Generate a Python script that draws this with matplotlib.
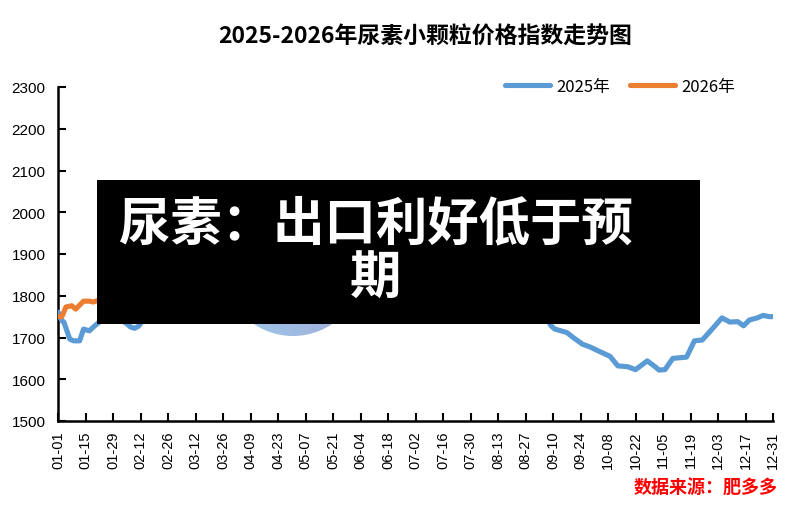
import matplotlib
matplotlib.use("Agg")
import matplotlib.pyplot as plt
import numpy as np
import pandas as pd
from matplotlib.patches import Rectangle, Circle

plt.rcParams['font.family'] = ['Noto Sans CJK SC', 'DejaVu Sans']

# ---------------- data ----------------
dates_2025 = ["01-01", "01-03", "01-04", "01-07", "01-09", "01-12", "01-14", "01-17",
              "01-19", "01-22", "01-26", "02-01", "02-05", "02-07", "02-09", "02-11",
              "02-13", "02-20", "03-01", "03-15", "04-01", "04-15", "05-01", "05-15",
              "06-01", "06-15", "07-01", "07-15", "08-01", "08-15", "09-01", "09-07",
              "09-09", "09-11", "09-17", "09-20", "09-25", "09-29", "10-03", "10-09",
              "10-13", "10-18", "10-22", "10-28", "11-01", "11-03", "11-06", "11-10",
              "11-17", "11-21", "11-25", "11-30", "12-05", "12-09", "12-13", "12-16",
              "12-19", "12-23", "12-26", "12-29", "12-31"]
values_2025 = [1761, 1740, 1737, 1696, 1692, 1692, 1720, 1716,
               1725, 1737, 1745, 1745, 1733, 1725, 1722, 1727,
               1740, 1770, 1800, 1850, 1900, 1920, 1900, 1880,
               1850, 1830, 1840, 1820, 1800, 1780, 1760, 1745,
               1728, 1720, 1712, 1701, 1684, 1677, 1668, 1655,
               1632, 1630, 1623, 1644, 1630, 1622, 1623, 1650,
               1653, 1692, 1694, 1720, 1747, 1737, 1738, 1728,
               1742, 1747, 1753, 1750, 1750]

dates_2026 = ["01-01", "01-03", "01-05", "01-08", "01-10", "01-14", "01-17", "01-19", "01-22"]
values_2026 = [1750, 1750, 1773, 1776, 1768, 1787, 1787, 1785, 1790]

tick_labels = ["01-01", "01-15", "01-29", "02-12", "02-26", "03-12", "03-26", "04-09",
               "04-23", "05-07", "05-21", "06-04", "06-18", "07-02", "07-16", "07-30",
               "08-13", "08-27", "09-10", "09-24", "10-08", "10-22", "11-05", "11-19",
               "12-03", "12-17", "12-31"]
y_ticks = [1500, 1600, 1700, 1800, 1900, 2000, 2100, 2200, 2300]

title = "2025-2026年尿素小颗粒价格指数走势图"
series_names = ["2025年", "2026年"]
overlay_text = "尿素：出口利好低于预\n期"
source_text = "数据来源：肥多多"

# ---------------- helpers ----------------
base = pd.Timestamp("2025-01-01")
def to_day(md_list):
    return [(pd.Timestamp("2025-" + md) - base).days for md in md_list]

x25 = to_day(dates_2025)
x26 = to_day(dates_2026)
xt = to_day(tick_labels)

W, H = 799, 506
fig = plt.figure(figsize=(W / 100, H / 100), dpi=100)
fig.patch.set_facecolor("white")

L, R, B, T = 58, 773, 422, 88
ax = fig.add_axes([L / W, 1 - B / H, (R - L) / W, (B - T) / H])

blue = "#5B9BD5"
orange = "#ED7D31"
ax.plot(x25, values_2025, color=blue, lw=3.7, solid_joinstyle="round",
        solid_capstyle="round", label=series_names[0], zorder=3)
ax.plot(x26, values_2026, color=orange, lw=3.7, solid_joinstyle="round",
        solid_capstyle="round", label=series_names[1], zorder=4)

ax.set_xlim(xt[0], xt[-1])
ax.set_ylim(1500, 2300)
ax.set_xticks(xt)
ax.set_xticklabels(tick_labels, rotation=90, family="Liberation Sans", fontsize=10.5)
ax.set_yticks(y_ticks)
ax.set_yticklabels([str(v) for v in y_ticks], family="Liberation Sans", fontsize=11)
ax.tick_params(axis="both", direction="in", length=6, width=1.5, colors="black")
ax.tick_params(axis="x", pad=7)
ax.tick_params(axis="y", pad=9)
for s in ["top", "right"]:
    ax.spines[s].set_visible(False)
for s in ["left", "bottom"]:
    ax.spines[s].set_linewidth(1.8)
    ax.spines[s].set_color("black")

leg = ax.legend(ncol=2, frameon=False, loc="upper right",
                bbox_to_anchor=(742 / W, 1 - 72 / H), bbox_transform=fig.transFigure,
                fontsize=12, handlelength=2.7, columnspacing=1.2, handletextpad=0.4,
                borderaxespad=0)
for line in leg.get_lines():
    line.set_linewidth(3.7)

fig.text(425 / W, 1 - 37 / H, title, ha="center", va="center",
         fontsize=16.5, fontweight="bold", color="black")

# decorative gradient circle (partially hidden by the box)
cx, cy, r = 293, 267, 70
cax = fig.add_axes([(cx - r) / W, 1 - (cy + r) / H, 2 * r / W, 2 * r / H], zorder=2)
cax.set_xlim(0, 1)
cax.set_ylim(0, 1)
cax.axis("off")
c1 = np.array(matplotlib.colors.to_rgb("#9ccbea"))
c2 = np.array(matplotlib.colors.to_rgb("#a3acd9"))
t = np.linspace(0, 1, 64)
grad = (c1[None, None, :] * (1 - t)[None, :, None] + c2[None, None, :] * t[None, :, None])
grad = np.repeat(grad, 4, axis=0)
im = cax.imshow(grad, extent=[0, 1, 0, 1], aspect="auto", origin="lower")
circ = Circle((0.5, 0.5), 0.5, transform=cax.transData)
im.set_clip_path(circ)

# black overlay box
bx0, by0, bx1, by1 = 97, 181, 700, 325
box = Rectangle((bx0 / W, 1 - by1 / H), (bx1 - bx0) / W, (by1 - by0) / H,
                transform=fig.transFigure, facecolor="black", edgecolor="none", zorder=10)
fig.add_artist(box)
fig.text(376 / W, 1 - 251 / H, overlay_text, ha="center", va="center",
         fontsize=37, fontweight="bold", color="white", linespacing=1.05, zorder=11)

fig.text(778 / W, 1 - 488 / H, source_text, ha="right", va="center",
         fontsize=13, fontweight="bold", color="#FF0000", style="italic")

fig.savefig("out.png", dpi=100, facecolor="white")
